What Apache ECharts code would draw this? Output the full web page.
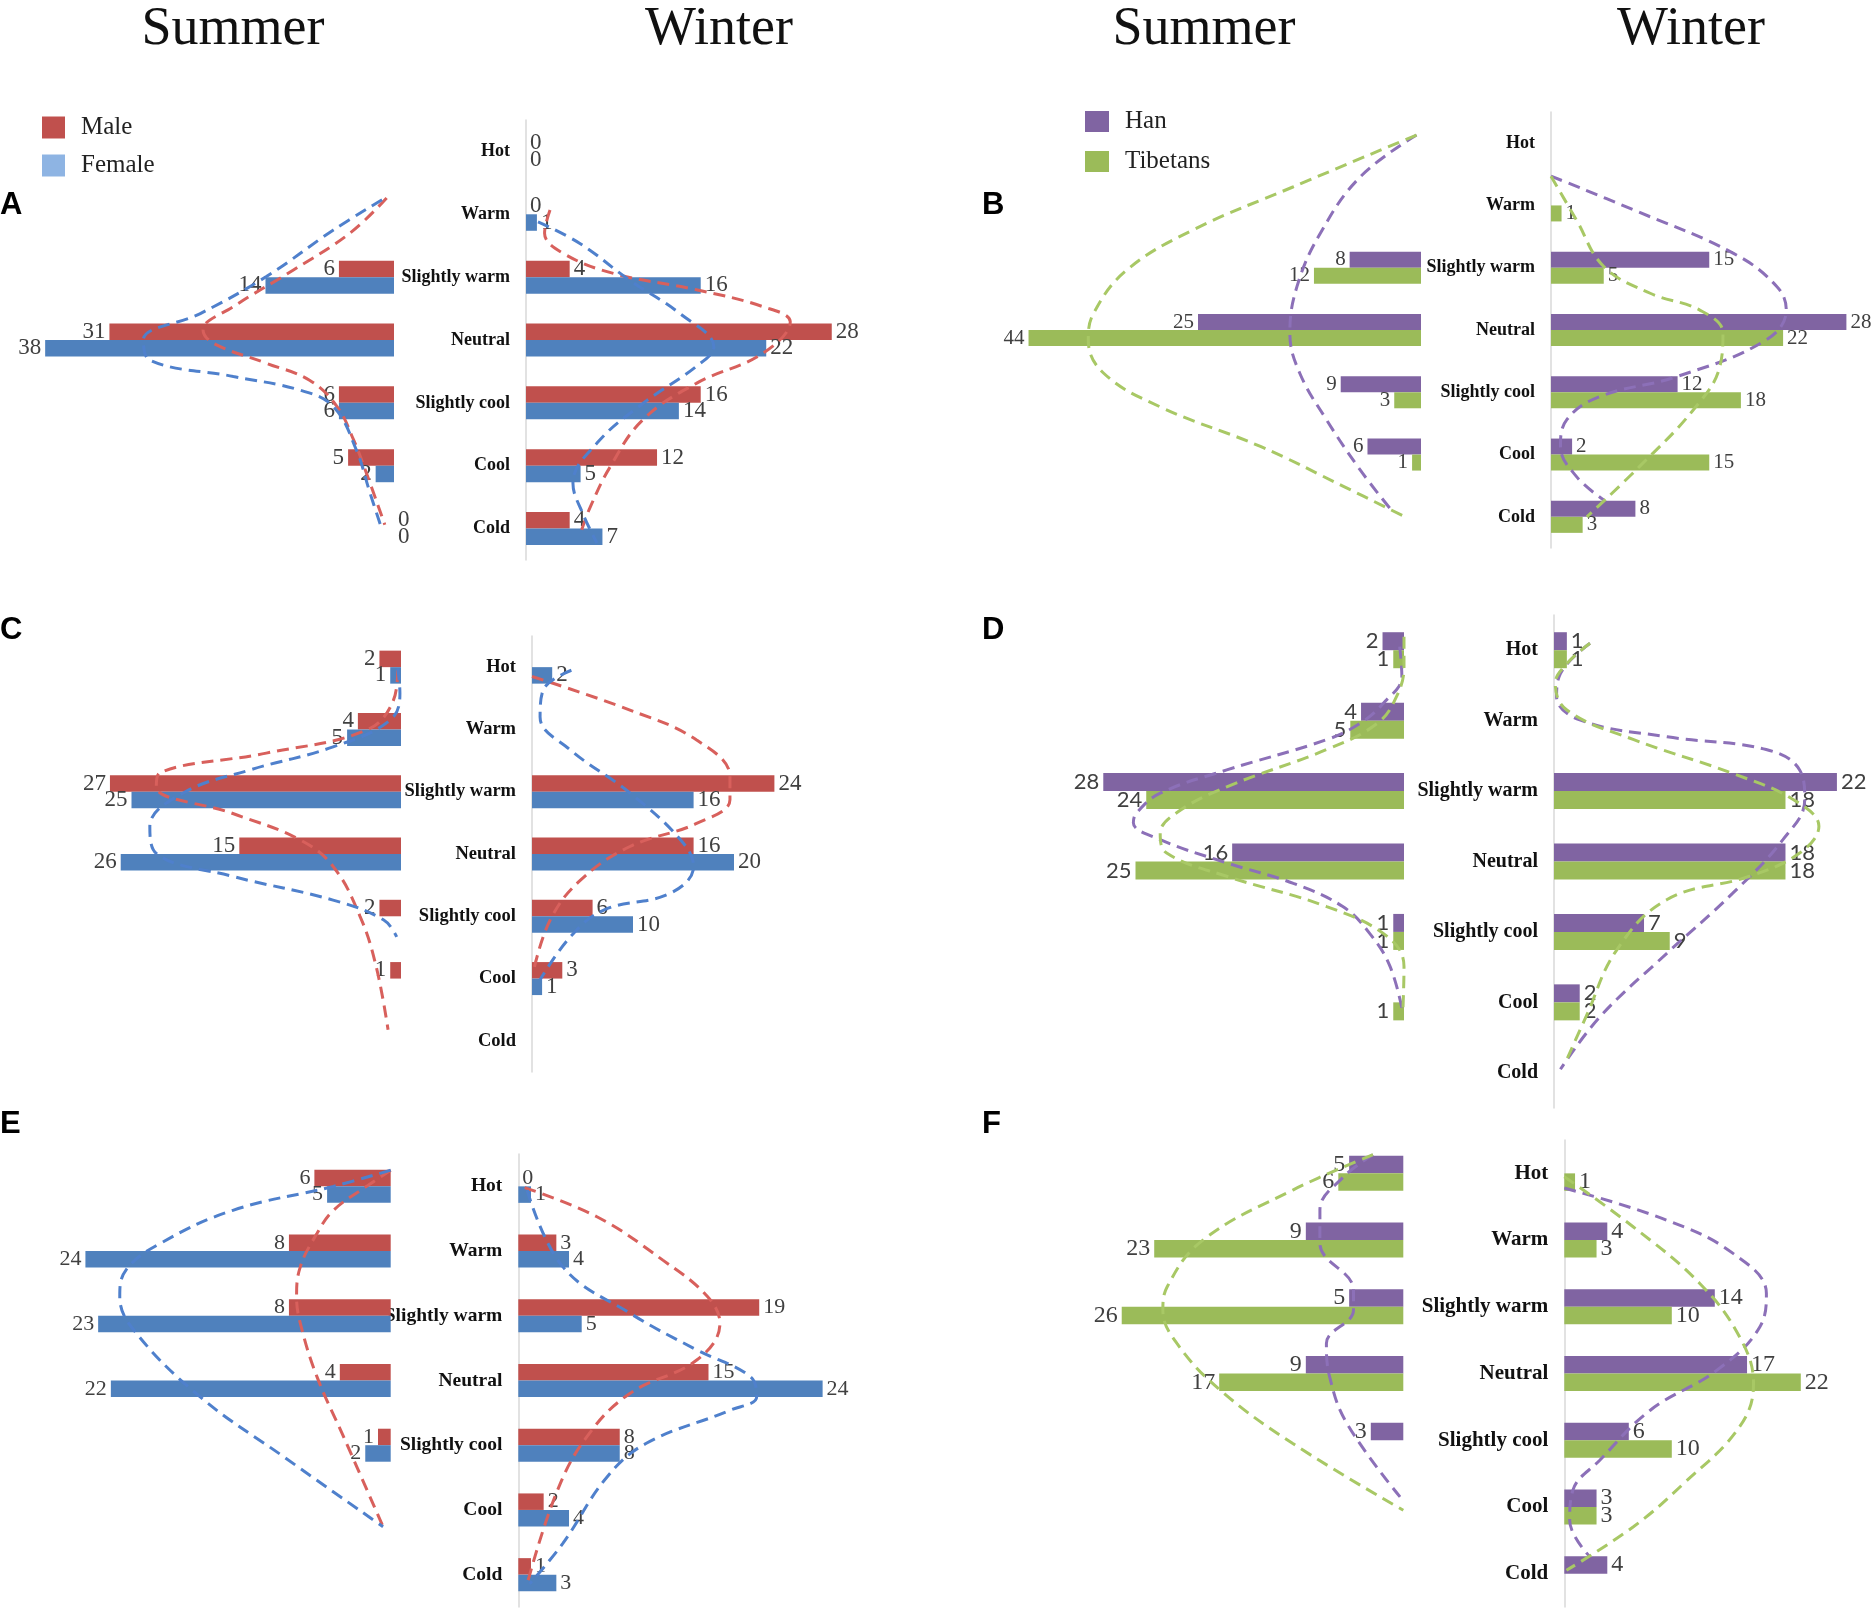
<!DOCTYPE html>
<html><head><meta charset="utf-8">
<script src="https://cdn.jsdelivr.net/npm/echarts@6/dist/echarts.min.js"></script>
<style>html,body{margin:0;padding:0;background:#fff}#c{width:1873px;height:1608px}</style>
</head><body><div id="c"></div>
<script>
// ---------------- DATA ----------------
const categories = ['Hot','Warm','Slightly warm','Neutral','Slightly cool','Cool','Cold'];
const seasonTitles = ['Summer','Winter','Summer','Winter'];
const panelLetters = ['A','B','C','D','E','F'];

// Panel A (Male / Female)
const aSummerMale   = [null,null,6,31,6,5,0];
const aSummerFemale = [null,null,14,38,6,2,0];
const aWinterMale   = [0,0,4,28,16,12,4];
const aWinterFemale = [0,1,16,22,14,5,7];
// curve readings: [value, category position]
const aSummerMaleCurve   = [[0.8,1.24],[4.8,1.8],[11,2.39],[17.5,2.97],[20.8,3.34],[19.7,3.55],[13.9,3.87],[9.2,4.14],[6.2,4.56],[4.4,5.09],[3,5.62],[1,6.44]];
const aSummerFemaleCurve = [[1.3,1.27],[6.6,1.75],[13.9,2.49],[21.1,3.08],[27.3,3.5],[26.6,3.82],[17.5,4.08],[10.2,4.3],[6.6,4.56],[4.1,5.25],[2.6,5.94],[1.3,6.52]];
const aWinterMaleCurve   = [[2.2,1.43],[1.7,1.8],[3.4,2.12],[8,2.44],[15.6,2.7],[21.7,2.97],[24.2,3.21],[21.7,3.71],[15.6,4.19],[10.7,4.77],[7.7,5.52],[5.9,6.15],[5.1,6.52]];
const aWinterFemaleCurve = [[1.1,1.62],[4.9,1.96],[9.5,2.55],[14.1,3.08],[17.2,3.61],[15.6,3.92],[10.7,4.51],[6.5,5.14],[4.3,5.78],[5.2,6.26],[6.5,6.73]];

// Panel B (Han / Tibetans)
const bSummerHan = [null,null,8,25,9,6,null];
const bSummerTib = [null,null,12,44,3,1,null];
const bWinterHan = [null,null,15,28,12,2,8];
const bWinterTib = [null,1,5,22,18,15,3];
const bSummerHanCurve = [[0.5,0.37],[6.8,1.04],[11.3,1.95],[13.9,2.8],[14.7,3.55],[13.6,4.19],[10.6,4.94],[6.8,5.75],[3.5,6.36]];
const bSummerTibCurve = [[0.5,0.37],[14.3,1.2],[25.5,1.89],[33,2.54],[36.7,3.23],[37.3,3.66],[35.6,4.19],[29.3,4.73],[18,5.37],[8.7,6.01],[1.8,6.5]];
const bWinterHanCurve = [[0,1.03],[7.8,1.57],[17.3,2.27],[21.4,2.8],[22.3,3.18],[20.4,3.66],[11.9,4.25],[4.6,4.57],[1.5,4.94],[0.9,5.37],[2.4,5.85],[5,6.23]];
const bWinterTibCurve = [[0,1.03],[2.4,1.73],[5,2.48],[9.4,2.91],[14.1,3.18],[16.3,3.55],[16,4.09],[13.5,4.78],[8.4,5.69],[3.4,6.5]];

// Panel C (Male / Female)
const cSummerMale   = [2,4,27,15,2,1,null];
const cSummerFemale = [1,5,25,26,null,null,null];
const cWinterMale   = [null,null,24,16,6,3,null];
const cWinterFemale = [2,null,16,20,10,1,null];
const cSummerMaleCurve   = [[0.3,0.55],[0.7,1.03],[3.2,1.51],[12.5,1.88],[22.4,2.2],[22.7,2.42],[15.6,2.85],[9.4,3.27],[6.3,3.7],[3.8,4.5],[2.3,5.31],[1.2,6.32]];
const cSummerFemaleCurve = [[0.3,0.52],[0.1,0.92],[1,1.35],[6.3,1.78],[14,2.15],[20.2,2.52],[23.3,3.06],[22.7,3.49],[15.6,3.86],[6.3,4.24],[1.6,4.56],[0.4,4.83]];
const cWinterMaleCurve   = [[0,0.65],[9.7,1.19],[16.3,1.67],[19.6,2.26],[19.6,2.63],[16.3,3.01],[9.7,3.38],[4.8,3.92],[1.8,4.56],[0.1,5.41]];
const cWinterFemaleCurve = [[3.9,0.55],[1.1,0.87],[0.8,1.3],[3.8,1.83],[9.7,2.52],[14.7,3.27],[16,3.7],[13.7,4.13],[7.1,4.4],[3.8,4.83],[0.8,5.52]];

// Panel D (Han / Tibetans)
const dSummerHan = [2,4,28,16,1,null,null];
const dSummerTib = [1,5,24,25,1,1,null];
const dWinterHan = [1,null,22,18,7,2,null];
const dWinterTib = [1,null,18,18,9,2,null];
const dSummerHanCurve = [[0.4,0.45],[0.2,0.87],[1.9,1.25],[4.1,1.54],[7.2,1.77],[16.5,2.2],[22.7,2.53],[24.9,2.81],[25.2,2.95],[22.7,3.19],[16.5,3.52],[10.3,3.81],[5.7,4.14],[3.2,4.52],[1.3,4.99],[0.1,5.65]];
const dSummerTibCurve = [[0,0.31],[0,0.73],[0.7,1.16],[2.5,1.54],[7.2,1.91],[16.5,2.44],[21.2,2.81],[22.7,3.1],[22.1,3.38],[16.5,3.71],[7.2,4.14],[1.6,4.56],[0,4.99],[0.1,5.6]];
const dWinterHanCurve = [[2.8,0.4],[0.5,0.83],[0.2,1.16],[2,1.49],[8.8,1.73],[16.5,1.91],[19.1,2.2],[19.5,2.62],[17.8,3.19],[13.9,3.95],[8.8,4.8],[3.6,5.7],[0.5,6.45]];
const dWinterTibCurve = [[2.8,0.4],[1,0.69],[0.1,0.97],[1,1.35],[6.2,1.77],[13.9,2.25],[18.6,2.62],[20.6,3.0],[19.1,3.38],[15.2,3.71],[8.8,4.04],[4.9,4.75],[2.5,5.7],[1,6.31]];

// Panel E (Male / Female)
const eSummerMale   = [6,8,8,4,1,null,null];
const eSummerFemale = [5,24,23,22,2,null,null];
const eWinterMale   = [0,3,19,15,8,2,1];
const eWinterFemale = [1,4,5,24,8,4,3];
const eSummerMaleCurve   = [[0,0.25],[1.9,0.5],[4.5,0.87],[5.8,1.23],[7.1,1.74],[7.4,2.2],[7.1,2.62],[5.8,3.44],[3.7,4.37],[0.6,5.76]];
const eSummerFemaleCurve = [[0,0.25],[4.5,0.5],[12.4,0.87],[18.1,1.38],[20.8,1.79],[21.3,2.2],[20.2,2.72],[15,3.75],[8.4,4.68],[0.6,5.76]];
const eWinterMaleCurve   = [[0.5,0.52],[6.2,0.97],[11.4,1.64],[14.9,2.2],[15.9,2.62],[14.1,3.18],[8.8,3.7],[5.4,4.37],[3,5.24],[0.7,6.64]];
const eWinterFemaleCurve = [[0.7,0.56],[3.5,1.74],[8.8,2.46],[14.1,3.03],[18.3,3.44],[18.8,3.75],[16.7,3.96],[10.1,4.47],[7,4.99],[3.5,6.02],[0.9,6.64]];

// Panel F (Han / Tibetans)
const fSummerHan = [5,9,5,9,3,null,null];
const fSummerTib = [6,23,26,17,null,null,null];
const fWinterHan = [null,4,14,17,6,3,4];
const fWinterTib = [1,3,10,22,10,3,null];
const fSummerHanCurve = [[2.8,0.22],[5.5,0.55],[7.7,1.05],[7.7,1.55],[4.6,2.25],[4.6,2.55],[7.1,3.05],[6.8,3.55],[5.2,4.25],[0.3,5.35]];
const fSummerTibCurve = [[2.8,0.22],[10.2,0.75],[18.5,1.5],[21.8,2.2],[22.2,2.55],[20.9,3.05],[16.9,3.75],[10.2,4.55],[0,5.55]];
const fWinterHanCurve = [[0,0.72],[9.5,1.2],[15.7,1.7],[18.8,2.3],[18.2,2.8],[14.2,3.45],[8,4.05],[3.3,4.8],[0.8,5.25],[0.5,5.7],[2.4,6.25]];
const fWinterTibCurve = [[0,0.55],[6.4,1.3],[12.6,2.15],[16.3,2.95],[17.6,3.65],[16.3,4.3],[11.1,5.15],[6.4,5.8],[0.2,6.45]];

// ---------------- STYLE / LAYOUT ----------------
const SERIF = '"Liberation Serif","Times New Roman",serif';
const SANS = '"Lato","Liberation Sans",sans-serif';
const C_RED = '#C0504D', C_BLUE = '#4F81BD', C_PURPLE = '#8064A2', C_GREEN = '#9BBB59';
const L_RED = '#D8605C', L_BLUE = '#4F80CC', L_PURPLE = '#8C70B8', L_GREEN = '#A8C865';

const layouts = [
  {top:120, bottom:560, s:{zero:394, scale:9.18, max:42}, w:{zero:526, scale:10.92, max:30}, barW:16.5, valFont:23, valFamily:SERIF, catFont:18},
  {top:112, bottom:548, s:{zero:1421, scale:8.92, max:46}, w:{zero:1551, scale:10.55, max:30}, barW:16, valFont:21, valFamily:SERIF, catFont:18},
  {top:636, bottom:1072, s:{zero:401, scale:10.78, max:36}, w:{zero:532, scale:10.1, max:30}, barW:16.5, valFont:23, valFamily:SERIF, catFont:18.5},
  {top:615, bottom:1108, s:{zero:1404, scale:10.74, max:36}, w:{zero:1554, scale:12.86, max:24}, barW:18, valFont:22, valFamily:SANS, catFont:20},
  {top:1154, bottom:1607, s:{zero:390.7, scale:12.72, max:30}, w:{zero:518.3, scale:12.68, max:28}, barW:16.5, valFont:22, valFamily:SERIF, catFont:19.5},
  {top:1140, bottom:1607, s:{zero:1403.3, scale:10.83, max:34}, w:{zero:1564.3, scale:10.75, max:28}, barW:17.5, valFont:24, valFamily:SERIF, catFont:21}
];

const MF = {names:['Male','Female'], colors:[C_RED,C_BLUE], curveColors:[L_RED,L_BLUE]};
const HT = {names:['Han','Tibetans'], colors:[C_PURPLE,C_GREEN], curveColors:[L_PURPLE,L_GREEN]};

const panels = [
  Object.assign({lay:layouts[0], summer:[aSummerMale,aSummerFemale], winter:[aWinterMale,aWinterFemale],
    sc:[aSummerMaleCurve,aSummerFemaleCurve], wc:[aWinterMaleCurve,aWinterFemaleCurve]}, MF),
  Object.assign({lay:layouts[1], summer:[bSummerHan,bSummerTib], winter:[bWinterHan,bWinterTib],
    sc:[bSummerHanCurve,bSummerTibCurve], wc:[bWinterHanCurve,bWinterTibCurve]}, HT),
  Object.assign({lay:layouts[2], summer:[cSummerMale,cSummerFemale], winter:[cWinterMale,cWinterFemale],
    sc:[cSummerMaleCurve,cSummerFemaleCurve], wc:[cWinterMaleCurve,cWinterFemaleCurve]}, MF),
  Object.assign({lay:layouts[3], summer:[dSummerHan,dSummerTib], winter:[dWinterHan,dWinterTib],
    sc:[dSummerHanCurve,dSummerTibCurve], wc:[dWinterHanCurve,dWinterTibCurve]}, HT),
  Object.assign({lay:layouts[4], summer:[eSummerMale,eSummerFemale], winter:[eWinterMale,eWinterFemale],
    sc:[eSummerMaleCurve,eSummerFemaleCurve], wc:[eWinterMaleCurve,eWinterFemaleCurve]}, MF),
  Object.assign({lay:layouts[5], summer:[fSummerHan,fSummerTib], winter:[fWinterHan,fWinterTib],
    sc:[fSummerHanCurve,fSummerTibCurve], wc:[fWinterHanCurve,fWinterTibCurve]}, HT)
];

const grids = [], xAxes = [], yAxes = [], series = [];
panels.forEach(p => {
  const L = p.lay;
  ['s','w'].forEach(side => {
    const g = grids.length;
    const S = L[side];
    const width = S.max * S.scale;
    const left = side === 's' ? S.zero - width : S.zero;
    grids.push({left:left, top:L.top, width:width, height:L.bottom - L.top, containLabel:false});
    xAxes.push({type:'value', gridIndex:g, min:0, max:S.max, inverse: side === 's', show:false});
    yAxes.push({type:'category', gridIndex:g, data:categories, inverse:true,
      axisLine:{show: side === 'w', lineStyle:{color:'#D9D9D9', width:1.5}},
      axisTick:{show:false}, splitLine:{show:false},
      axisLabel:{show: side === 'w', margin:16, fontFamily:SERIF, fontWeight:'bold', fontSize:L.catFont, color:'#111'}});
    yAxes.push({type:'value', gridIndex:g, min:0, max:7, inverse:true, show:false});
    const catY = yAxes.length - 2, valY = yAxes.length - 1;
    const bars = side === 's' ? p.summer : p.winter;
    const curves = side === 's' ? p.sc : p.wc;
    bars.forEach((d, i) => {
      // zero-valued summer bars carry their label on the axis side, as in the original
      const items = d.map(v => (side === 's' && v === 0) ? {value:0, label:{position:'right'}} : v);
      series.push({type:'bar', name:p.names[i], xAxisIndex:g, yAxisIndex:catY, data:items,
        barWidth:L.barW, barGap:'0%', itemStyle:{color:p.colors[i]}, z:2,
        label:{show:true, position: side === 's' ? 'left' : 'right', distance:4,
          fontFamily:L.valFamily, fontSize:L.valFont, color:'#404040'}});
    });
    curves.forEach((c, i) => {
      series.push({type:'line', name:p.names[i] + ' trend', xAxisIndex:g, yAxisIndex:valY, data:c,
        smooth:0.4, symbol:'none', silent:true, clip:false, z:3,
        lineStyle:{color:p.curveColors[i], width:3, type:[12,7]}});
    });
  });
});

const titleX = [233, 719, 1204, 1691];
const letterPos = [[0,205],[982,205],[0,630],[982,630],[0,1124],[982,1124]];
const graphic = [];
seasonTitles.forEach((t, i) => graphic.push({type:'text', x:titleX[i], y:30,
  style:{text:t, fontSize:54, fontFamily:SERIF, fill:'#111', align:'center', verticalAlign:'middle', textAlign:'center', textVerticalAlign:'middle'}}));
panelLetters.forEach((t, i) => graphic.push({type:'text', x:letterPos[i][0], y:letterPos[i][1],
  style:{text:t, fontSize:31, fontWeight:'bold', fontFamily:'"Liberation Sans",Arial,sans-serif', fill:'#000', align:'left', verticalAlign:'middle', textAlign:'left', textVerticalAlign:'middle'}}));

const chart = echarts.init(document.getElementById('c'), null, {renderer:'canvas'});
chart.setOption({
  animation:false,
  backgroundColor:'#fff',
  grid:grids, xAxis:xAxes, yAxis:yAxes, series:series, graphic:graphic,
  legend:[
    {orient:'vertical', left:37, top:110, icon:'rect', itemWidth:23, itemHeight:22, itemGap:13, selectedMode:false,
     data:[{name:'Male', itemStyle:{color:C_RED}}, {name:'Female', itemStyle:{color:'#8EB4E3'}}],
     textStyle:{fontFamily:SERIF, fontSize:25, color:'#222', padding:[0,0,0,11]}},
    {orient:'vertical', left:1080, top:104, icon:'rect', itemWidth:24, itemHeight:21, itemGap:15, selectedMode:false,
     data:[{name:'Han', itemStyle:{color:C_PURPLE}}, {name:'Tibetans', itemStyle:{color:C_GREEN}}],
     textStyle:{fontFamily:SERIF, fontSize:25, color:'#222', padding:[0,0,0,11]}}
  ]
});
</script></body></html>
